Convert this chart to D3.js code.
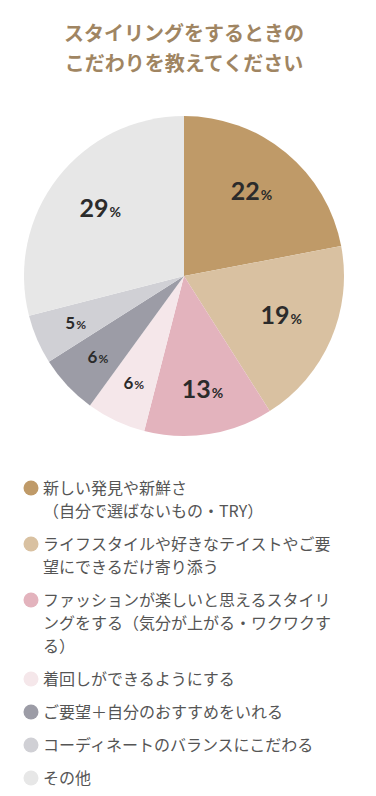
<!DOCTYPE html>
<html lang="ja">
<head>
<meta charset="UTF-8">
<title>スタイリングをするときのこだわり</title>
<script src="https://d3js.org/d3.v7.min.js"></script>
<style>
    body { margin: 0; background: #fff; }
    svg { display: block; }
</style>
</head>
<body>
<div id="chart"></div>
<script>
// データ
const titleLines = ["スタイリングをするときの", "こだわりを教えてください"];
const categories = [
    "新しい発見や新鮮さ\n（自分で選ばないもの・TRY）",
    "ライフスタイルや好きなテイストやご要\n望にできるだけ寄り添う",
    "ファッションが楽しいと思えるスタイリ\nングをする（気分が上がる・ワクワクす\nる）",
    "着回しができるようにする",
    "ご要望＋自分のおすすめをいれる",
    "コーディネートのバランスにこだわる",
    "その他"
];
const values = [22, 19, 13, 6, 6, 5, 29];
const colors = ["#bf9a68", "#d9c1a1", "#e3b3bd", "#f5e7ea", "#9c9ca6", "#d0d0d5", "#e7e7e7"];

const width = 376, height = 796;
const cx = 184, cy = 276, radius = 160;

const svg = d3.select("#chart").append("svg")
    .attr("width", width)
    .attr("height", height);

// タイトル
svg.append("g").selectAll("text")
    .data(titleLines)
    .enter().append("text")
    .attr("x", width / 2 - 4)
    .attr("y", (d, i) => 34 + i * 30)
    .attr("dy", "0.35em")
    .attr("text-anchor", "middle")
    .attr("fill", "#a08562")
    .style("font-family", "'Noto Sans CJK JP', sans-serif")
    .style("font-weight", 700)
    .style("font-size", "20px")
    .text(d => d);

// 円グラフ
const pie = d3.pie().sort(null).value(d => d.value);
const arc = d3.arc().innerRadius(0).outerRadius(radius);
const slices = pie(values.map((v, i) => ({ value: v, color: colors[i] })));

const g = svg.append("g").attr("transform", `translate(${cx},${cy})`);

g.selectAll("path")
    .data(slices)
    .enter().append("path")
    .attr("d", arc)
    .attr("fill", d => d.data.color);

const labels = g.selectAll(".label")
    .data(slices)
    .enter().append("text")
    .attr("class", "label")
    .attr("transform", d => {
        const r = d.data.value >= 15 ? 106 : 118;
        const [x, y] = d3.arc().innerRadius(r).outerRadius(r).centroid(d);
        return `translate(${x},${y})`;
    })
    .attr("text-anchor", "middle")
    .attr("dy", "0.36em")
    .attr("fill", "#2b2b2b")
    .style("font-family", "Lato, sans-serif")
    .style("font-weight", 700);

labels.append("tspan")
    .style("font-size", d => d.data.value >= 10 ? "25px" : "17px")
    .text(d => d.data.value);
labels.append("tspan")
    .attr("dx", 1)
    .style("font-size", d => d.data.value >= 10 ? "14px" : "12px")
    .text("%");

// 凡例
const lineH = 23, itemGap = 33;
let y = 488;
const legend = svg.append("g");
categories.forEach((c, i) => {
    const lines = c.split("\n");
    legend.append("circle")
        .attr("cx", 31)
        .attr("cy", y)
        .attr("r", 7.5)
        .attr("fill", colors[i]);
    const t = legend.append("text")
        .attr("fill", "#555")
        .style("font-family", "'Noto Sans CJK JP', sans-serif")
        .style("font-size", "16px");
    lines.forEach((l, j) => {
        t.append("tspan")
            .attr("x", 43)
            .attr("y", y + j * lineH)
            .attr("dy", "0.35em")
            .text(l);
    });
    y += (lines.length - 1) * lineH + itemGap;
});
</script>
</body>
</html>
